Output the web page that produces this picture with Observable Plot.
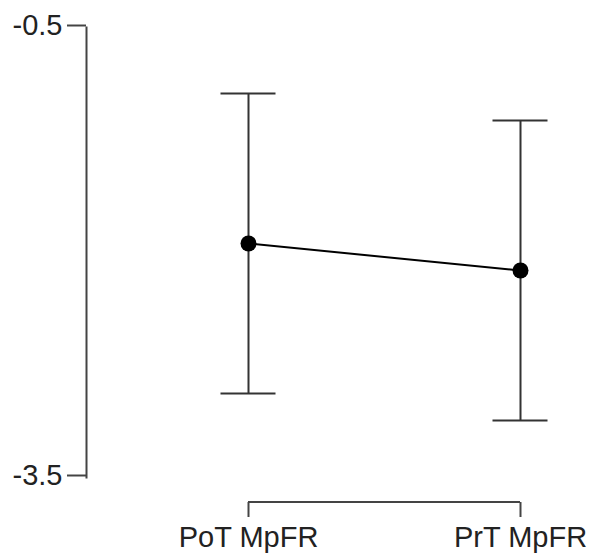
<!DOCTYPE html>
<html>
<head>
<meta charset="utf-8">
<script src="https://cdn.jsdelivr.net/npm/d3@7"></script>
<script src="https://cdn.jsdelivr.net/npm/@observablehq/plot@0.6"></script>
<style>
  html, body { margin: 0; padding: 0; background: #fff; }
</style>
</head>
<body>
<div id="chart"></div>
<script>
const conditions = ["PoT MpFR", "PrT MpFR"];
const means = [-1.94, -2.12];
const lower = [-2.94, -3.12];
const upper = [-0.94, -1.12];
const yTicks = [-0.5, -3.5];

const data = conditions.map((c, i) => ({cond: c, mean: means[i], lo: lower[i], hi: upper[i]}));

const axisColor = "#444";
const capHalf = 27.5;
const chart = Plot.plot({
  width: 593,
  height: 558,
  marginTop: 27,
  marginBottom: 81,
  marginLeft: 86,
  marginRight: 20,
  style: {fontFamily: "'Liberation Sans', Arial, sans-serif", fontSize: "29px", color: "#222", background: "#fff"},
  x: {type: "point", domain: conditions, range: [247.5, 520], padding: 0, label: null},
  y: {domain: [-3.5, -0.5], label: null},
  marks: [
    Plot.frame({anchor: "left", stroke: axisColor, strokeWidth: 2}),
    Plot.axisY({ticks: yTicks, tickSize: 19, tickPadding: 5, tickFormat: d => d.toFixed(1), stroke: axisColor, strokeWidth: 2, fill: "#222", label: null, dy: -2}),
    Plot.axisX({tickSize: 15, tickPadding: 9, dy: 25, stroke: axisColor, strokeWidth: 2, fill: "#222", label: null}),
    Plot.ruleX(data, {x: "cond", y1: "lo", y2: "hi", stroke: "#333", strokeWidth: 2}),
    Plot.ruleY(data, {x1: "cond", x2: "cond", y: "hi", stroke: "#333", strokeWidth: 2, insetLeft: -capHalf, insetRight: -capHalf}),
    Plot.ruleY(data, {x1: "cond", x2: "cond", y: "lo", stroke: "#333", strokeWidth: 2, insetLeft: -capHalf, insetRight: -capHalf}),
    Plot.line(data, {x: "cond", y: "mean", stroke: "#000", strokeWidth: 2}),
    Plot.dot(data, {x: "cond", y: "mean", r: 8, fill: "#000", stroke: "none"})
  ]
});

// bracket line joining the x-axis ticks, placed via the plot's x scale
const xs = chart.scale("x");
const yBracket = 558 - 81 + 25;
d3.select(chart).append("line")
  .attr("x1", xs.apply(conditions[0]))
  .attr("x2", xs.apply(conditions[conditions.length - 1]))
  .attr("y1", yBracket)
  .attr("y2", yBracket)
  .attr("stroke", axisColor)
  .attr("stroke-width", 2);

document.getElementById("chart").appendChild(chart);
</script>
</body>
</html>
